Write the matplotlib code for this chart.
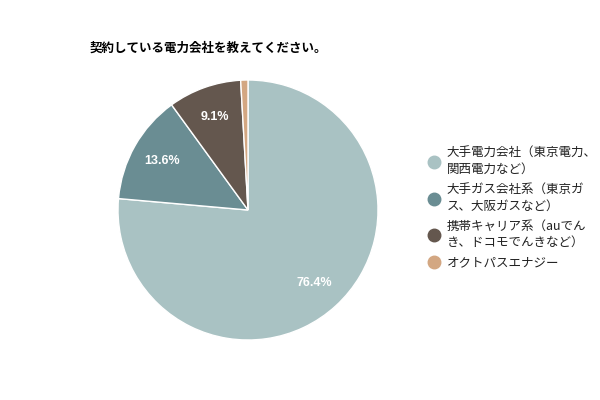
import matplotlib
matplotlib.use("Agg")
import matplotlib.pyplot as plt
from matplotlib.lines import Line2D

plt.rcParams['font.family'] = ['Noto Sans CJK JP', 'DejaVu Sans']

# data
title = "契約している電力会社を教えてください。"
labels = ["大手電力会社（東京電力、\n関西電力など）",
          "大手ガス会社系（東京ガ\nス、大阪ガスなど）",
          "携帯キャリア系（auでん\nき、ドコモでんきなど）",
          "オクトパスエナジー"]
values = [76.4, 13.6, 9.1, 0.9]
colors = ["#a9c2c3", "#6a8d93", "#64574e", "#d3a782"]

fig = plt.figure(figsize=(6, 4), dpi=100)
ax = fig.add_axes([118 / 600, 60 / 400, 260 / 600, 260 / 400])

def pct(p):
    return "%.1f%%" % p if p > 2 else ""

wedges, texts, autotexts = ax.pie(values, colors=colors, startangle=90, counterclock=False,
                                  autopct=pct, pctdistance=0.76, radius=1,
                                  wedgeprops=dict(edgecolor="white", linewidth=1))
for t in autotexts:
    t.set_color("white")
    t.set_fontsize(9)
    t.set_fontweight("bold")
    t.set_family(["Liberation Sans", "DejaVu Sans"])
ax.set_xlim(-1, 1)
ax.set_ylim(-1, 1)
ax.set_aspect("equal")

fig.text(90 / 600, 1 - 48 / 400, title, fontsize=9, fontweight="bold", va="center", ha="left")

handles = [Line2D([], [], marker="o", linestyle="none", markersize=9,
                  markerfacecolor=c, markeredgecolor=c) for c in colors]
leg = fig.legend(handles, labels, loc="upper left", bbox_to_anchor=(421 / 600, 1 - 142 / 400),
                 frameon=False, fontsize=9, handletextpad=0.45, labelspacing=0.6,
                 handlelength=1.2, borderaxespad=0, labelcolor="#222222")
for t in leg.get_texts():
    t.set_linespacing(1.3)

fig.savefig("out.png", dpi=100)
